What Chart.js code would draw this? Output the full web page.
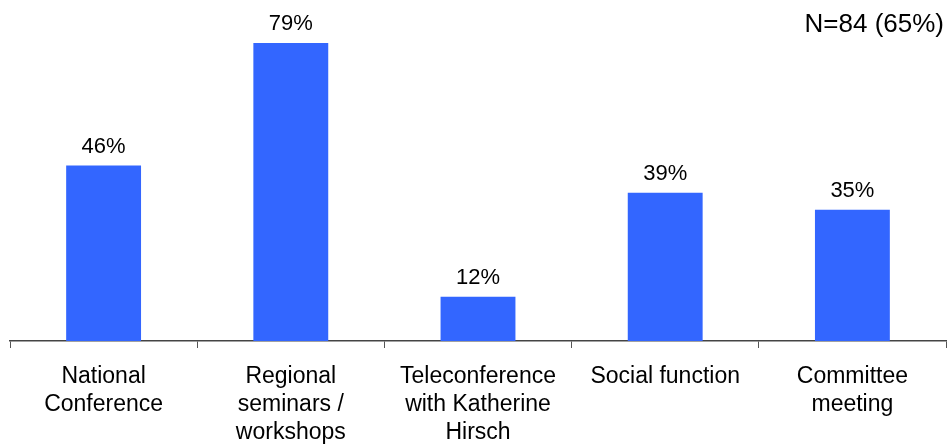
<!DOCTYPE html>
<html>
<head>
<meta charset="utf-8">
<script src="https://cdn.jsdelivr.net/npm/chart.js@4/dist/chart.umd.min.js"></script>
<style>
  html, body { margin: 0; padding: 0; background: #ffffff; }
  #wrap { position: relative; width: 947px; height: 445px; }
</style>
</head>
<body>
<div id="wrap"><canvas id="c" width="947" height="445"></canvas></div>
<script>
const categories = [
  ['National', 'Conference'],
  ['Regional', 'seminars /', 'workshops'],
  ['Teleconference', 'with Katherine', 'Hirsch'],
  'Social function',
  ['Committee', 'meeting']
];
const values = [46.5, 79, 11.7, 39.3, 34.8];
const valueLabels = ['46%', '79%', '12%', '39%', '35%'];
const noteText = 'N=84 (65%)';

const FONT = "'Liberation Sans', Arial, Helvetica, sans-serif";

const annotate = {
  id: 'annotate',
  afterDatasetsDraw(chart) {
    const ctx = chart.ctx;
    const meta = chart.getDatasetMeta(0);
    ctx.save();
    ctx.fillStyle = '#000000';
    ctx.font = '22px ' + FONT;
    ctx.textAlign = 'center';
    ctx.textBaseline = 'alphabetic';
    meta.data.forEach((bar, i) => {
      ctx.fillText(valueLabels[i], bar.x, bar.y - 12.5);
    });
    ctx.font = '26px ' + FONT;
    ctx.textAlign = 'right';
    ctx.fillText(noteText, 944, 32);
    ctx.restore();
  }
};

new Chart(document.getElementById('c'), {
  type: 'bar',
  data: {
    labels: categories,
    datasets: [{
      data: values,
      backgroundColor: '#3366FF',
      borderWidth: 0,
      categoryPercentage: 1.0,
      barPercentage: 0.4
    }]
  },
  options: {
    responsive: false,
    animation: false,
    devicePixelRatio: 1,
    layout: { padding: { left: 10, right: 1, top: 9, bottom: 0 } },
    plugins: {
      legend: { display: false },
      tooltip: { enabled: false },
      title: { display: false }
    },
    scales: {
      x: {
        offset: true,
        afterFit(scale) { scale.height = 104; },
        border: { display: true, color: '#444444', width: 1.5 },
        grid: {
          display: true,
          offset: true,
          drawOnChartArea: false,
          drawTicks: true,
          tickLength: 7,
          color: '#555555'
        },
        ticks: {
          color: '#000000',
          padding: 15,
          maxRotation: 0,
          autoSkip: false,
          font: { family: FONT, size: 23, lineHeight: 1.21 }
        }
      },
      y: {
        display: false,
        min: 0,
        max: 88
      }
    }
  },
  plugins: [annotate]
});
</script>
</body>
</html>
